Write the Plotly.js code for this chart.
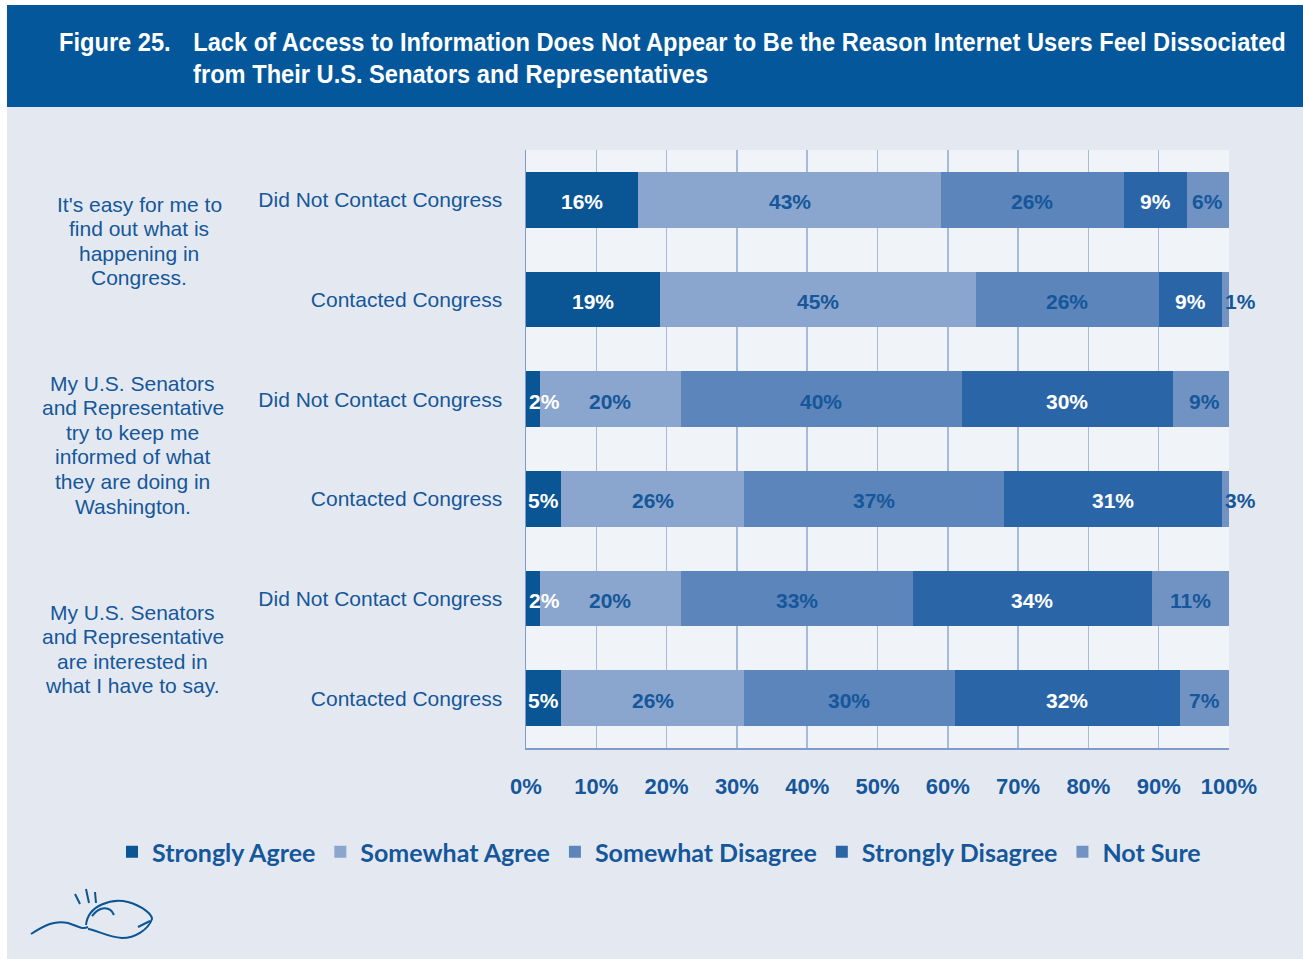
<!DOCTYPE html>
<html>
<head>
<meta charset="utf-8">
<script src="https://cdn.plot.ly/plotly-3.0.1.min.js"></script>
<style>html,body{margin:0;padding:0;background:#ffffff;}#chart{width:1303px;height:959px;}</style>
</head>
<body>
<div id="chart"></div>
<script>
// ---- data ----
var rowIds = ['q1_no', 'q1_yes', 'q2_no', 'q2_yes', 'q3_no', 'q3_yes'];
var rowLabels = ['Did Not Contact Congress', 'Contacted Congress',
                 'Did Not Contact Congress', 'Contacted Congress',
                 'Did Not Contact Congress', 'Contacted Congress'];
var statementLines = [
  ["It's easy for me to", 'find out what is', 'happening in', 'Congress.'],
  ['My U.S. Senators', 'and Representative', 'try to keep me', 'informed of what', 'they are doing in', 'Washington.'],
  ['My U.S. Senators', 'and Representative', 'are interested in', 'what I have to say.']
];
var seriesNames = ['Strongly Agree', 'Somewhat Agree', 'Somewhat Disagree', 'Strongly Disagree', 'Not Sure'];
var stronglyAgree     = [16, 19, 2, 5, 2, 5];
var somewhatAgree     = [43, 45, 20, 26, 20, 26];
var somewhatDisagree  = [26, 26, 40, 37, 33, 30];
var stronglyDisagree  = [9, 9, 30, 31, 34, 32];
var notSure           = [6, 1, 9, 3, 11, 7];
var xTickVals = [0, 10, 20, 30, 40, 50, 60, 70, 80, 90, 100];
var titleLines = ['Lack of Access to Information Does Not Appear to Be the Reason Internet Users Feel Dissociated',
                  'from Their U.S. Senators and Representatives'];
var figureLabel = 'Figure 25.';

// ---- style ----
var seriesColors = ['#0A5594', '#8BA6CE', '#5C85BB', '#2A65A8', '#7093C4'];
var labelColors  = ['#FFFFFF', '#15579A', '#15579A', '#FFFFFF', '#15579A'];
var textBlue = '#15579A';
var allSeries = [stronglyAgree, somewhatAgree, somewhatDisagree, stronglyDisagree, notSure];
var sans = 'Liberation Sans, Arial, sans-serif';

var W = 1303, H = 959;
var L = 526, R = 1229, T = 150, B = 748;
function px(x) { return (x - L) / (R - L); }
function py(y) { return (B - y) / (B - T); }

var traces = [];
allSeries.forEach(function (vals, i) {
  traces.push({
    type: 'bar', orientation: 'h', name: seriesNames[i],
    x: vals, y: rowIds,
    marker: { color: seriesColors[i], line: { width: 0 } },
    hoverinfo: 'skip'
  });
});

var annotations = [];

// value labels on top of the bars, positioned in data coordinates
var starts = rowIds.map(function () { return 0; });
allSeries.forEach(function (vals, i) {
  vals.forEach(function (v, r) {
    var s = starts[r];
    var small = v <= 3;
    annotations.push({
      xref: 'x', yref: 'y', x: small ? s : s + v / 2, y: rowIds[r],
      xanchor: small ? 'left' : 'center', yanchor: 'middle', yshift: -2, xshift: small ? 1 : 0,
      showarrow: false, text: v + '%',
      font: { family: sans, size: 21, color: labelColors[i], weight: 'bold' }
    });
    starts[r] = s + v;
  });
});

// statement text, one annotation per line
var groupY = [241, 444.5, 649];
var groupX = [139, 133, 133];
var lineStep = 24.6;
statementLines.forEach(function (lines, g) {
  lines.forEach(function (ln, k) {
    annotations.push({
      xref: 'paper', yref: 'paper', x: px(groupX[g]),
      y: py(groupY[g] + (k - (lines.length - 1) / 2) * lineStep),
      xanchor: 'center', yanchor: 'middle', showarrow: false,
      text: ln, font: { family: sans, size: 21, color: textBlue }
    });
  });
});
var titleFont = { family: sans, size: 26, color: '#FFFFFF', weight: 'bold' };
var firstTitleIdx = annotations.length;
annotations.push({ xref: 'paper', yref: 'paper', x: px(57), y: py(42), xanchor: 'left', yanchor: 'middle',
  showarrow: false, text: figureLabel, font: titleFont });
annotations.push({ xref: 'paper', yref: 'paper', x: px(191), y: py(42), xanchor: 'left', yanchor: 'middle',
  showarrow: false, text: titleLines[0], font: titleFont });
annotations.push({ xref: 'paper', yref: 'paper', x: px(191), y: py(74), xanchor: 'left', yanchor: 'middle',
  showarrow: false, text: titleLines[1], font: titleFont });

function pathFrom(pts) {
  return pts.map(function (p) {
    var out = p[0];
    for (var i = 1; i < p.length; i += 2) {
      out += (i > 1 ? ' ' : '') + px(p[i]).toFixed(5) + ',' + py(p[i + 1]).toFixed(5);
    }
    return out;
  }).join(' ');
}
var logoColor = '#0A5594';
var shapes = [
  { type: 'rect', xref: 'paper', yref: 'paper', x0: px(0), x1: px(W), y0: py(0), y1: py(5), fillcolor: '#FFFFFF', line: { width: 0 }, layer: 'below' },
  { type: 'rect', xref: 'paper', yref: 'paper', x0: px(0), x1: px(7), y0: py(0), y1: py(H), fillcolor: '#FFFFFF', line: { width: 0 }, layer: 'below' },
  { type: 'rect', xref: 'paper', yref: 'paper', x0: px(7), x1: px(W), y0: py(107), y1: py(5), fillcolor: '#03579A', line: { width: 0 }, layer: 'below' },
  // small decorative logo
  { type: 'path', xref: 'paper', yref: 'paper', layer: 'above', line: { color: logoColor, width: 2 },
    path: pathFrom([['M', 31, 934], ['C', 45, 925, 55, 920, 68, 923], ['C', 78, 926, 82, 930, 88, 927]]) },
  { type: 'path', xref: 'paper', yref: 'paper', layer: 'above', line: { color: logoColor, width: 2 },
    path: pathFrom([['M', 86, 925], ['C', 88, 905, 112, 898, 128, 902], ['C', 142, 906, 152, 914, 152, 919],
                    ['C', 148, 930, 135, 938, 122, 938], ['C', 108, 937, 96, 930, 88, 929]]) },
  { type: 'path', xref: 'paper', yref: 'paper', layer: 'above', line: { color: logoColor, width: 2 },
    path: pathFrom([['M', 92, 916], ['C', 100, 906, 110, 906, 114, 915], ['M', 138, 927], ['L', 150, 921]]) },
  { type: 'path', xref: 'paper', yref: 'paper', layer: 'above', line: { color: logoColor, width: 2 },
    path: pathFrom([['M', 75, 894], ['L', 80, 904], ['M', 86, 889], ['L', 89, 903], ['M', 95, 892], ['L', 96, 903]]) }
];

var layout = {
  width: W, height: H,
  margin: { l: L, r: W - R, t: T, b: H - B, pad: 0 },
  paper_bgcolor: '#E4E9F1',
  plot_bgcolor: '#F0F3F8',
  barmode: 'stack',
  bargap: 0.44,
  showlegend: true,
  legend: {
    orientation: 'h', x: px(112), y: py(852), xanchor: 'left', yanchor: 'middle',
    bgcolor: 'rgba(0,0,0,0)', traceorder: 'normal',
    font: { family: 'Lato, Open Sans, sans-serif', size: 25, color: textBlue, weight: 'bold' },
    itemwidth: 30
  },
  xaxis: {
    range: [0, 100], tickmode: 'array', tickvals: xTickVals,
    ticktext: xTickVals.map(function (v) { return v + '%'; }),
    showgrid: true, gridcolor: '#A9BAD8', gridwidth: 1.5,
    zeroline: false, showline: true, linecolor: '#7E9BCB', linewidth: 1.5,
    ticks: 'outside', ticklen: 18, tickcolor: 'rgba(0,0,0,0)',
    tickfont: { family: sans, size: 22, color: textBlue, weight: 'bold' },
    fixedrange: true
  },
  yaxis: {
    type: 'category', autorange: 'reversed',
    tickmode: 'array', tickvals: rowIds, ticktext: rowLabels,
    showgrid: false, zeroline: false, showline: true, linecolor: '#7E9BCB', linewidth: 1.5,
    ticks: 'outside', ticklen: 18, tickcolor: 'rgba(0,0,0,0)',
    tickfont: { family: sans, size: 21, color: textBlue },
    fixedrange: true
  },
  annotations: annotations,
  shapes: shapes
};

Plotly.newPlot('chart', traces, layout, { displayModeBar: false, staticPlot: true }).then(function (gd) {
  // condense the banner title horizontally so line 1 spans the same width as in the figure
  var groups = gd.querySelectorAll('.annotation');
  var byIdx = {};
  groups.forEach(function (g) { byIdx[g.getAttribute('data-index')] = g; });
  var t1 = byIdx[String(firstTitleIdx + 1)].querySelector('text.annotation-text');
  var w1 = t1.getBBox().width;
  var s = (1284 - 191) / w1;
  [firstTitleIdx, firstTitleIdx + 1, firstTitleIdx + 2].forEach(function (idx) {
    var t = byIdx[String(idx)].querySelector('text.annotation-text');
    var bb = t.getBBox();
    t.setAttribute('transform', 'translate(' + (bb.x * (1 - s)) + ',0) scale(' + s + ',1)');
  });
});
</script>
</body>
</html>
